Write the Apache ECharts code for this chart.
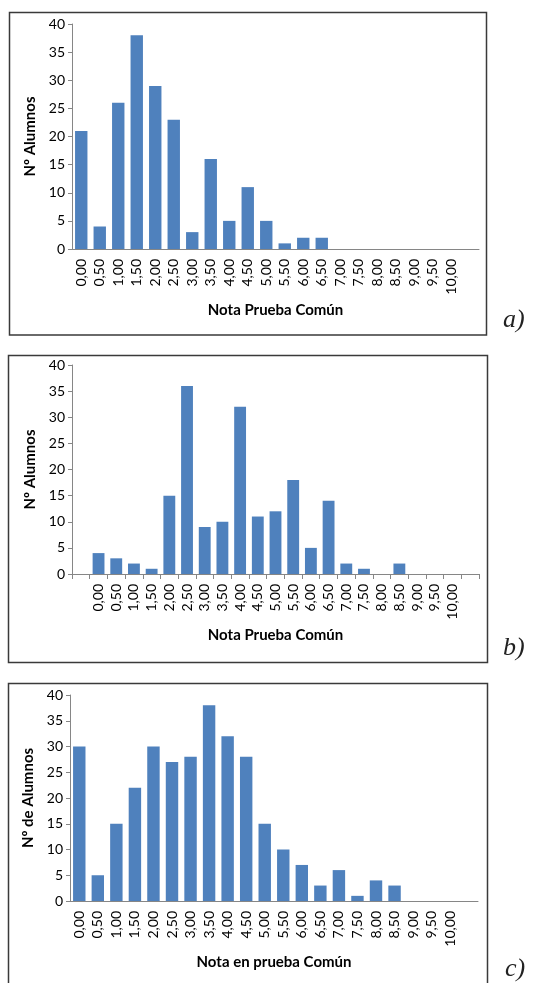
<!DOCTYPE html>
<html>
<head>
<meta charset="utf-8">
<script src="https://cdn.jsdelivr.net/npm/echarts@6/dist/echarts.min.js"></script>
<style>
html,body{margin:0;padding:0;background:#fff;}
#chart{width:545px;height:983px;}
</style>
</head>
<body>
<div id="chart"></div>
<script>
const CATS = ['0,00','0,50','1,00','1,50','2,00','2,50','3,00','3,50','4,00','4,50','5,00','5,50','6,00','6,50','7,00','7,50','8,00','8,50','9,00','9,50','10,00'];
const A_VALUES = [21,4,26,38,29,23,3,16,5,11,5,1,2,2,0,0,0,0,0,0,0];
const B_VALUES = [4,3,2,1,15,36,9,10,32,11,12,18,5,14,2,1,0,2,0,0,0];
const C_VALUES = [30,5,15,22,30,27,28,38,32,28,15,10,7,3,6,1,4,3,0,0,0];
const Y_TITLES = ['Nº Alumnos','Nº Alumnos','Nº de Alumnos'];
const X_TITLES = ['Nota Prueba Común','Nota Prueba Común','Nota en prueba Común'];
const PANEL_LABELS = ['a)','b)','c)'];

const FONT = 'Lato';
const BAR = '#4F81BD';
const AXIS = '#868686';

const grids = [
  {left:72, top:24, width:407, height:225},
  {left:72, top:365, width:407, height:209},
  {left:70, top:695, width:408, height:206}
];
const xCats = [
  CATS.concat(['']),
  [''].concat(CATS, ['']),
  CATS.concat([''])
];
const seriesData = [
  A_VALUES.concat(['-']),
  ['-'].concat(B_VALUES, ['-']),
  C_VALUES.concat(['-'])
];
const showXTicks = [false, true, false];

const chart = echarts.init(document.getElementById('chart'), null, {renderer:'canvas'});
const option = {
  animation:false,
  backgroundColor:'#fff',
  textStyle:{fontFamily:FONT},
  grid: grids.map(g => Object.assign({containLabel:false}, g)),
  xAxis: grids.map((g,i) => ({
    type:'category', gridIndex:i, data:xCats[i],
    boundaryGap:true,
    name:X_TITLES[i], nameLocation:'middle', nameGap:54,
    nameTextStyle:{fontFamily:FONT, fontWeight:'bold', fontSize:15, color:'#000'},
    axisLine:{show:true, lineStyle:{color:AXIS, width:1}},
    axisTick:{show:showXTicks[i], interval:0, length:5, lineStyle:{color:AXIS}},
    axisLabel:{interval:0, rotate:90, margin:10, fontFamily:FONT, fontSize:14, color:'#000'},
    splitLine:{show:false}
  })),
  yAxis: grids.map((g,i) => ({
    type:'value', gridIndex:i, min:0, max:40, interval:5,
    name:Y_TITLES[i], nameLocation:'middle', nameGap:31, nameRotate:90,
    nameTextStyle:{fontFamily:FONT, fontWeight:'bold', fontSize:15, color:'#000'},
    axisLine:{show:true, lineStyle:{color:AXIS, width:1}},
    axisTick:{show:true, length:4, lineStyle:{color:AXIS}},
    axisLabel:{margin:7, fontFamily:FONT, fontSize:14, color:'#000'},
    splitLine:{show:false}
  })),
  series: grids.map((g,i) => ({
    type:'bar', xAxisIndex:i, yAxisIndex:i,
    data:seriesData[i],
    barCategoryGap:'33%',
    itemStyle:{color:BAR, borderWidth:0}
  })),
  graphic: [
    {type:'rect', shape:{x:9.5, y:12.5, width:477, height:322.5}, style:{fill:null, stroke:'#3a3a3a', lineWidth:1.5}, silent:true},
    {type:'rect', shape:{x:8.5, y:355.5, width:479, height:307}, style:{fill:null, stroke:'#3a3a3a', lineWidth:1.5}, silent:true},
    {type:'rect', shape:{x:8.5, y:683.5, width:479, height:320}, style:{fill:null, stroke:'#3a3a3a', lineWidth:1.5}, silent:true},
    {type:'text', left:503, top:307, style:{text:PANEL_LABELS[0], font:'italic 26px "Liberation Serif"', fill:'#222'}},
    {type:'text', left:503, top:635, style:{text:PANEL_LABELS[1], font:'italic 26px "Liberation Serif"', fill:'#222'}},
    {type:'text', left:505, top:956, style:{text:PANEL_LABELS[2], font:'italic 26px "Liberation Serif"', fill:'#222'}}
  ]
};
chart.setOption(option);
</script>
</body>
</html>
